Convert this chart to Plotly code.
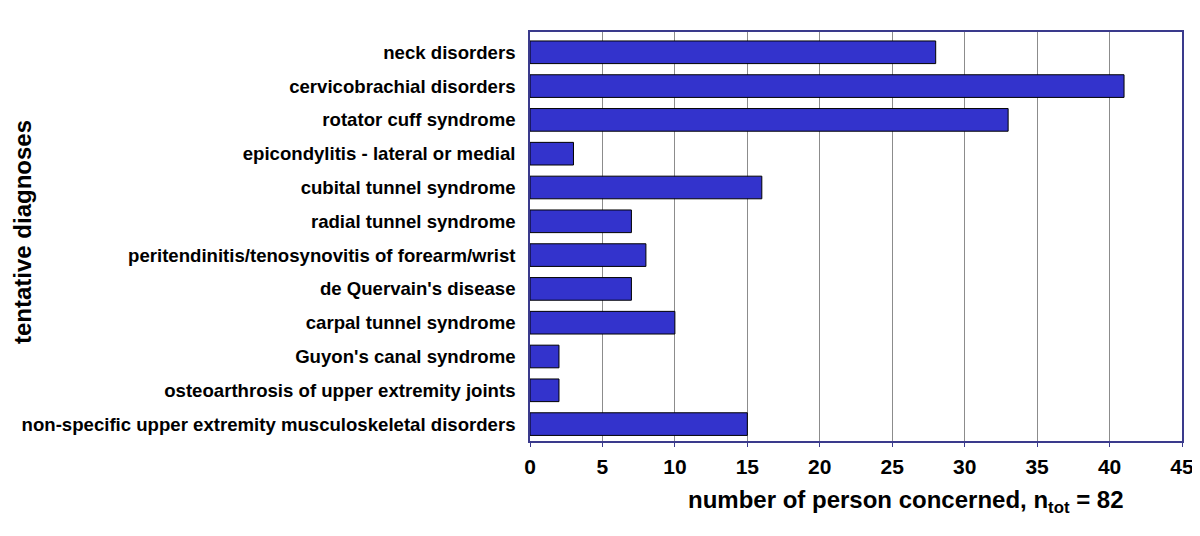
import plotly.graph_objects as go

diagnoses = [
    "neck disorders",
    "cervicobrachial disorders",
    "rotator cuff syndrome",
    "epicondylitis - lateral or medial",
    "cubital tunnel syndrome",
    "radial tunnel syndrome",
    "peritendinitis/tenosynovitis of forearm/wrist",
    "de Quervain's disease",
    "carpal tunnel syndrome",
    "Guyon's canal syndrome",
    "osteoarthrosis of upper extremity joints",
    "non-specific upper extremity musculoskeletal disorders",
]
persons = [28, 41, 33, 3, 16, 7, 8, 7, 10, 2, 2, 15]
x_ticks = [0, 5, 10, 15, 20, 25, 30, 35, 40, 45]

FONT = "Liberation Sans, Arial, sans-serif"
# page body adds an 8px offset, so the figure is a bit smaller than the window
W, H = 1192, 528
L, R, T, B = 522, 18, 24, 95
PW, PH = W - L - R, H - T - B

fig = go.Figure(
    go.Bar(
        x=persons,
        y=diagnoses,
        orientation="h",
        marker={"color": "#3333CC", "line": {"color": "#000000", "width": 1}},
    )
)

fig.update_layout(
    width=W,
    height=H,
    margin={"l": L, "r": R, "t": T, "b": B},
    paper_bgcolor="white",
    plot_bgcolor="white",
    bargap=0.33,
    showlegend=False,
    font={"family": FONT, "color": "#000000"},
    xaxis={
        "range": [0, 45],
        "tickvals": x_ticks,
        "tickfont": {"size": 21, "weight": "bold"},
        "showgrid": True,
        "gridcolor": "#8c8c8c",
        "gridwidth": 1,
        "showline": True,
        "linecolor": "#3a3a8c",
        "linewidth": 1.5,
        "mirror": True,
        "ticks": "outside",
        "ticklen": 4,
        "tickcolor": "#3a3a8c",
        "ticklabelstandoff": 2,
        "zeroline": False,
        "automargin": False,
    },
    yaxis={
        "categoryorder": "array",
        "categoryarray": diagnoses[::-1],
        "range": [-0.5, 11.6],
        "tickfont": {"size": 18.6, "weight": "bold"},
        "showline": True,
        "linecolor": "#3a3a8c",
        "linewidth": 1.5,
        "mirror": True,
        "ticks": "",
        "ticklabelstandoff": 9,
        "showgrid": False,
        "automargin": False,
    },
    annotations=[
        {
            "text": "tentative diagnoses",
            "xref": "paper",
            "yref": "paper",
            "x": (22 - 8 - L) / PW,
            "y": 1 - (232 - 8 - T) / PH,
            "textangle": -90,
            "showarrow": False,
            "xanchor": "center",
            "yanchor": "middle",
            "font": {"size": 24, "weight": "bold"},
        },
        {
            "text": "number of person concerned, n<sub>tot</sub> = 82",
            "xref": "paper",
            "yref": "paper",
            "x": (906 - 8 - L) / PW,
            "y": -(501 - 8 - (H - B)) / PH,
            "showarrow": False,
            "xanchor": "center",
            "yanchor": "middle",
            "font": {"size": 24, "weight": "bold"},
        },
    ],
)

fig.write_html("out.html")
